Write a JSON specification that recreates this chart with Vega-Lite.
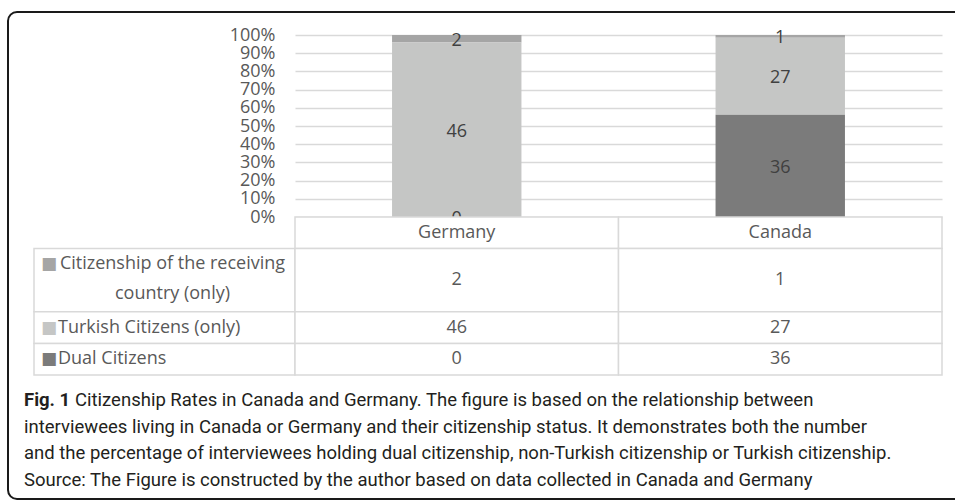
{
  "$schema": "https://vega.github.io/schema/vega-lite/v6.json",
  "background": "white",
  "padding": {"left": 7, "top": 11, "right": 0, "bottom": 0},
  "autosize": {"type": "pad"},
  "config": {
    "view": {"stroke": null},
    "font": "Open Sans",
    "text": {"font": "Open Sans", "fontSize": 18}
  },
  "datasets": {
    "bars": [
      {"country": "Germany", "series": "Citizenship of the receiving country (only)", "value": 2, "stackOrder": 3},
      {"country": "Germany", "series": "Turkish Citizens (only)", "value": 46, "stackOrder": 2},
      {"country": "Germany", "series": "Dual Citizens", "value": 0, "stackOrder": 1},
      {"country": "Canada", "series": "Citizenship of the receiving country (only)", "value": 1, "stackOrder": 3},
      {"country": "Canada", "series": "Turkish Citizens (only)", "value": 27, "stackOrder": 2},
      {"country": "Canada", "series": "Dual Citizens", "value": 36, "stackOrder": 1}
    ],
    "cells": [
      {"row": 0, "lines": 1, "country": "Germany", "text": "Germany"},
      {"row": 0, "lines": 1, "country": "Canada", "text": "Canada"},
      {"row": 1, "lines": 2, "country": "Germany", "text": "2"},
      {"row": 1, "lines": 2, "country": "Canada", "text": "1"},
      {"row": 2, "lines": 1, "country": "Germany", "text": "46"},
      {"row": 2, "lines": 1, "country": "Canada", "text": "27"},
      {"row": 3, "lines": 1, "country": "Germany", "text": "0"},
      {"row": 3, "lines": 1, "country": "Canada", "text": "36"}
    ],
    "rowlabels": [
      {"row": 0, "lines": 1, "label": "", "series": "none"},
      {"row": 1, "lines": 2, "label": "Citizenship of the receiving\ncountry (only)", "series": "Citizenship of the receiving country (only)"},
      {"row": 2, "lines": 1, "label": "Turkish Citizens (only)", "series": "Turkish Citizens (only)"},
      {"row": 3, "lines": 1, "label": "Dual Citizens", "series": "Dual Citizens"}
    ],
    "caption": [
      {"line": 1, "lead": "Fig. 1", "text": "Citizenship Rates in Canada and Germany. The figure is based on the relationship between"},
      {"line": 2, "lead": "", "text": "interviewees living in Canada or Germany and their citizenship status. It demonstrates both the number"},
      {"line": 3, "lead": "", "text": "and the percentage of interviewees holding dual citizenship, non-Turkish citizenship or Turkish citizenship."},
      {"line": 4, "lead": "", "text": "Source: The Figure is constructed by the author based on data collected in Canada and Germany"}
    ]
  },
  "columns": 3,
  "spacing": 0,
  "bounds": "flush",
  "concat": [
    {
      "bounds": "flush",
      "vconcat": [
        {
          "width": 960,
          "height": 487,
          "data": {"values": [{"blank": 1}]},
          "view": {"stroke": "#1a1a1a", "strokeWidth": 2, "cornerRadius": 9, "fill": "white"},
          "mark": {"type": "point", "opacity": 0},
          "encoding": {}
        }
      ]
    },
    {
      "width": 261,
      "height": 23,
      "data": {"values": [{"blank": 1}]},
      "mark": {"type": "point", "opacity": 0},
      "encoding": {}
    },
    {
      "width": 647,
      "height": 23,
      "data": {"values": [{"blank": 1}]},
      "mark": {"type": "point", "opacity": 0},
      "encoding": {}
    },
    {
      "width": 26,
      "height": 182,
      "data": {"values": [{"blank": 1}]},
      "mark": {"type": "point", "opacity": 0},
      "encoding": {}
    },
    {
      "width": 261,
      "height": 182,
      "data": {"values": [{"blank": 1}]},
      "mark": {"type": "point", "opacity": 0},
      "encoding": {}
    },
    {
      "width": 647,
      "height": 182,
      "data": {"name": "bars"},
      "encoding": {
        "x": {"field": "country", "type": "nominal", "sort": ["Germany", "Canada"], "scale": {"paddingInner": 0.6, "paddingOuter": 0.3}, "axis": null},
        "order": {"field": "stackOrder"}
      },
      "layer": [
        {
          "mark": {"type": "bar"},
          "encoding": {
            "y": {
              "field": "value", "type": "quantitative", "stack": "normalize",
              "scale": {"domain": [0, 1], "nice": false},
              "axis": {
                "values": [0, 0.1, 0.2, 0.3, 0.4, 0.5, 0.6, 0.7, 0.8, 0.9, 1],
                "tickCount": 11,
                "format": ".0%", "grid": true, "gridColor": "#d9d9d9", "gridWidth": 1.3,
                "domain": false, "ticks": false, "labelFontSize": 18, "labelColor": "#595959",
                "labelPadding": 20, "labelOverlap": false, "labelFlush": false, "title": null, "labelFont": "Open Sans"
              }
            },
            "color": {
              "field": "series", "type": "nominal",
              "scale": {"domain": ["Citizenship of the receiving country (only)", "Turkish Citizens (only)", "Dual Citizens"], "range": ["#a5a5a5", "#c5c6c5", "#7b7b7b"]},
              "legend": null
            }
          }
        },
        {
          "mark": {"type": "text", "fontSize": 18, "color": "#404040", "dy": 2},
          "encoding": {
            "y": {
              "field": "value", "type": "quantitative", "stack": "normalize", "bandPosition": 0.5,
              "scale": {"domain": [0, 1], "nice": false},
              "axis": {
                "values": [0, 0.1, 0.2, 0.3, 0.4, 0.5, 0.6, 0.7, 0.8, 0.9, 1],
                "tickCount": 11,
                "format": ".0%", "grid": true, "gridColor": "#d9d9d9", "gridWidth": 1.3,
                "domain": false, "ticks": false, "labelFontSize": 18, "labelColor": "#595959",
                "labelPadding": 20, "labelOverlap": false, "labelFlush": false, "title": null, "labelFont": "Open Sans"
              }
            },
            "text": {"field": "value", "type": "quantitative"}
          }
        }
      ]
    },
    {
      "width": 26,
      "height": 158,
      "data": {"values": [{"blank": 1}]},
      "mark": {"type": "point", "opacity": 0},
      "encoding": {}
    },
    {
      "width": 261,
      "height": 158,
      "data": {"name": "rowlabels"},
      "encoding": {
        "x": {"datum": "c", "type": "nominal", "scale": {"paddingInner": 0, "paddingOuter": 0}, "axis": null},
        "order": {"field": "row"}
      },
      "layer": [
        {
          "mark": {"type": "bar", "fill": "white", "stroke": "#d9d9d9", "strokeWidth": 1.5},
          "encoding": {
            "y": {"field": "lines", "type": "quantitative", "stack": "zero", "scale": {"domain": [0, 5], "reverse": true, "nice": false}, "axis": null},
            "opacity": {"condition": {"test": "datum.row == 0", "value": 0}, "value": 1}
          }
        },
        {
          "mark": {"type": "text", "align": "center", "dx": 8, "dy": -16, "lineBreak": "\n", "lineHeight": 30, "color": "#595959"},
          "encoding": {
            "y": {"field": "lines", "type": "quantitative", "stack": "zero", "bandPosition": 0.5},
            "text": {"field": "label"},
            "opacity": {"condition": {"test": "datum.row == 1", "value": 1}, "value": 0}
          }
        },
        {
          "mark": {"type": "text", "align": "left", "dx": 24, "color": "#595959"},
          "encoding": {
            "x": {"datum": "c", "type": "nominal", "bandPosition": 0},
            "y": {"field": "lines", "type": "quantitative", "stack": "zero", "bandPosition": 0.5},
            "text": {"field": "label"},
            "opacity": {"condition": {"test": "datum.row >= 2", "value": 1}, "value": 0}
          }
        },
        {
          "mark": {"type": "text", "align": "left", "dx": 7, "font": "DejaVu Sans", "fontSize": 17},
          "encoding": {
            "x": {"datum": "c", "type": "nominal", "bandPosition": 0},
            "y": {"field": "lines", "type": "quantitative", "stack": "zero", "bandPosition": 0.25},
            "text": {"value": "■"},
            "color": {"field": "series", "type": "nominal", "scale": {"domain": ["Citizenship of the receiving country (only)", "Turkish Citizens (only)", "Dual Citizens", "none"], "range": ["#a5a5a5", "#c5c6c5", "#7b7b7b", "#ffffff"]}, "legend": null},
            "opacity": {"condition": {"test": "datum.row == 1", "value": 1}, "value": 0}
          }
        },
        {
          "mark": {"type": "text", "align": "left", "dx": 7, "font": "DejaVu Sans", "fontSize": 17},
          "encoding": {
            "x": {"datum": "c", "type": "nominal", "bandPosition": 0},
            "y": {"field": "lines", "type": "quantitative", "stack": "zero", "bandPosition": 0.5},
            "text": {"value": "■"},
            "color": {"field": "series", "type": "nominal", "legend": null},
            "opacity": {"condition": {"test": "datum.row >= 2", "value": 1}, "value": 0}
          }
        }
      ]
    },
    {
      "width": 647,
      "height": 158,
      "data": {"name": "cells"},
      "encoding": {
        "x": {"field": "country", "type": "nominal", "sort": ["Germany", "Canada"], "scale": {"paddingInner": 0, "paddingOuter": 0}, "axis": null},
        "order": {"field": "row"}
      },
      "layer": [
        {
          "mark": {"type": "bar", "fill": "white", "stroke": "#d9d9d9", "strokeWidth": 1.5},
          "encoding": {
            "y": {"field": "lines", "type": "quantitative", "stack": "zero", "scale": {"domain": [0, 5], "reverse": true, "nice": false}, "axis": null}
          }
        },
        {
          "mark": {"type": "text", "color": "#595959"},
          "encoding": {
            "y": {"field": "lines", "type": "quantitative", "stack": "zero", "bandPosition": 0.5},
            "text": {"field": "text"}
          }
        }
      ]
    },
    {
      "width": 26,
      "height": 130,
      "data": {"name": "caption"},
      "encoding": {
        "x": {"datum": 0, "type": "quantitative", "scale": {"domain": [0, 1]}, "axis": null},
        "y": {"field": "line", "type": "ordinal", "scale": {"type": "point", "padding": 0.95, "domain": [1, 2, 3, 4]}, "axis": null}
      },
      "layer": [
        {
          "transform": [{"filter": "datum.line == 1"}],
          "mark": {"type": "text", "align": "left", "dx": 16, "font": "Roboto", "fontSize": 18.5, "fontWeight": "bold", "color": "#231f20"},
          "encoding": {"text": {"field": "lead"}}
        },
        {
          "transform": [{"filter": "datum.line == 1"}],
          "mark": {"type": "text", "align": "left", "dx": 67, "font": "Roboto", "fontSize": 18.5, "color": "#231f20"},
          "encoding": {"text": {"field": "text"}}
        },
        {
          "transform": [{"filter": "datum.line > 1"}],
          "mark": {"type": "text", "align": "left", "dx": 16, "font": "Roboto", "fontSize": 18.5, "color": "#231f20"},
          "encoding": {"text": {"field": "text"}}
        }
      ]
    }
  ]
}
